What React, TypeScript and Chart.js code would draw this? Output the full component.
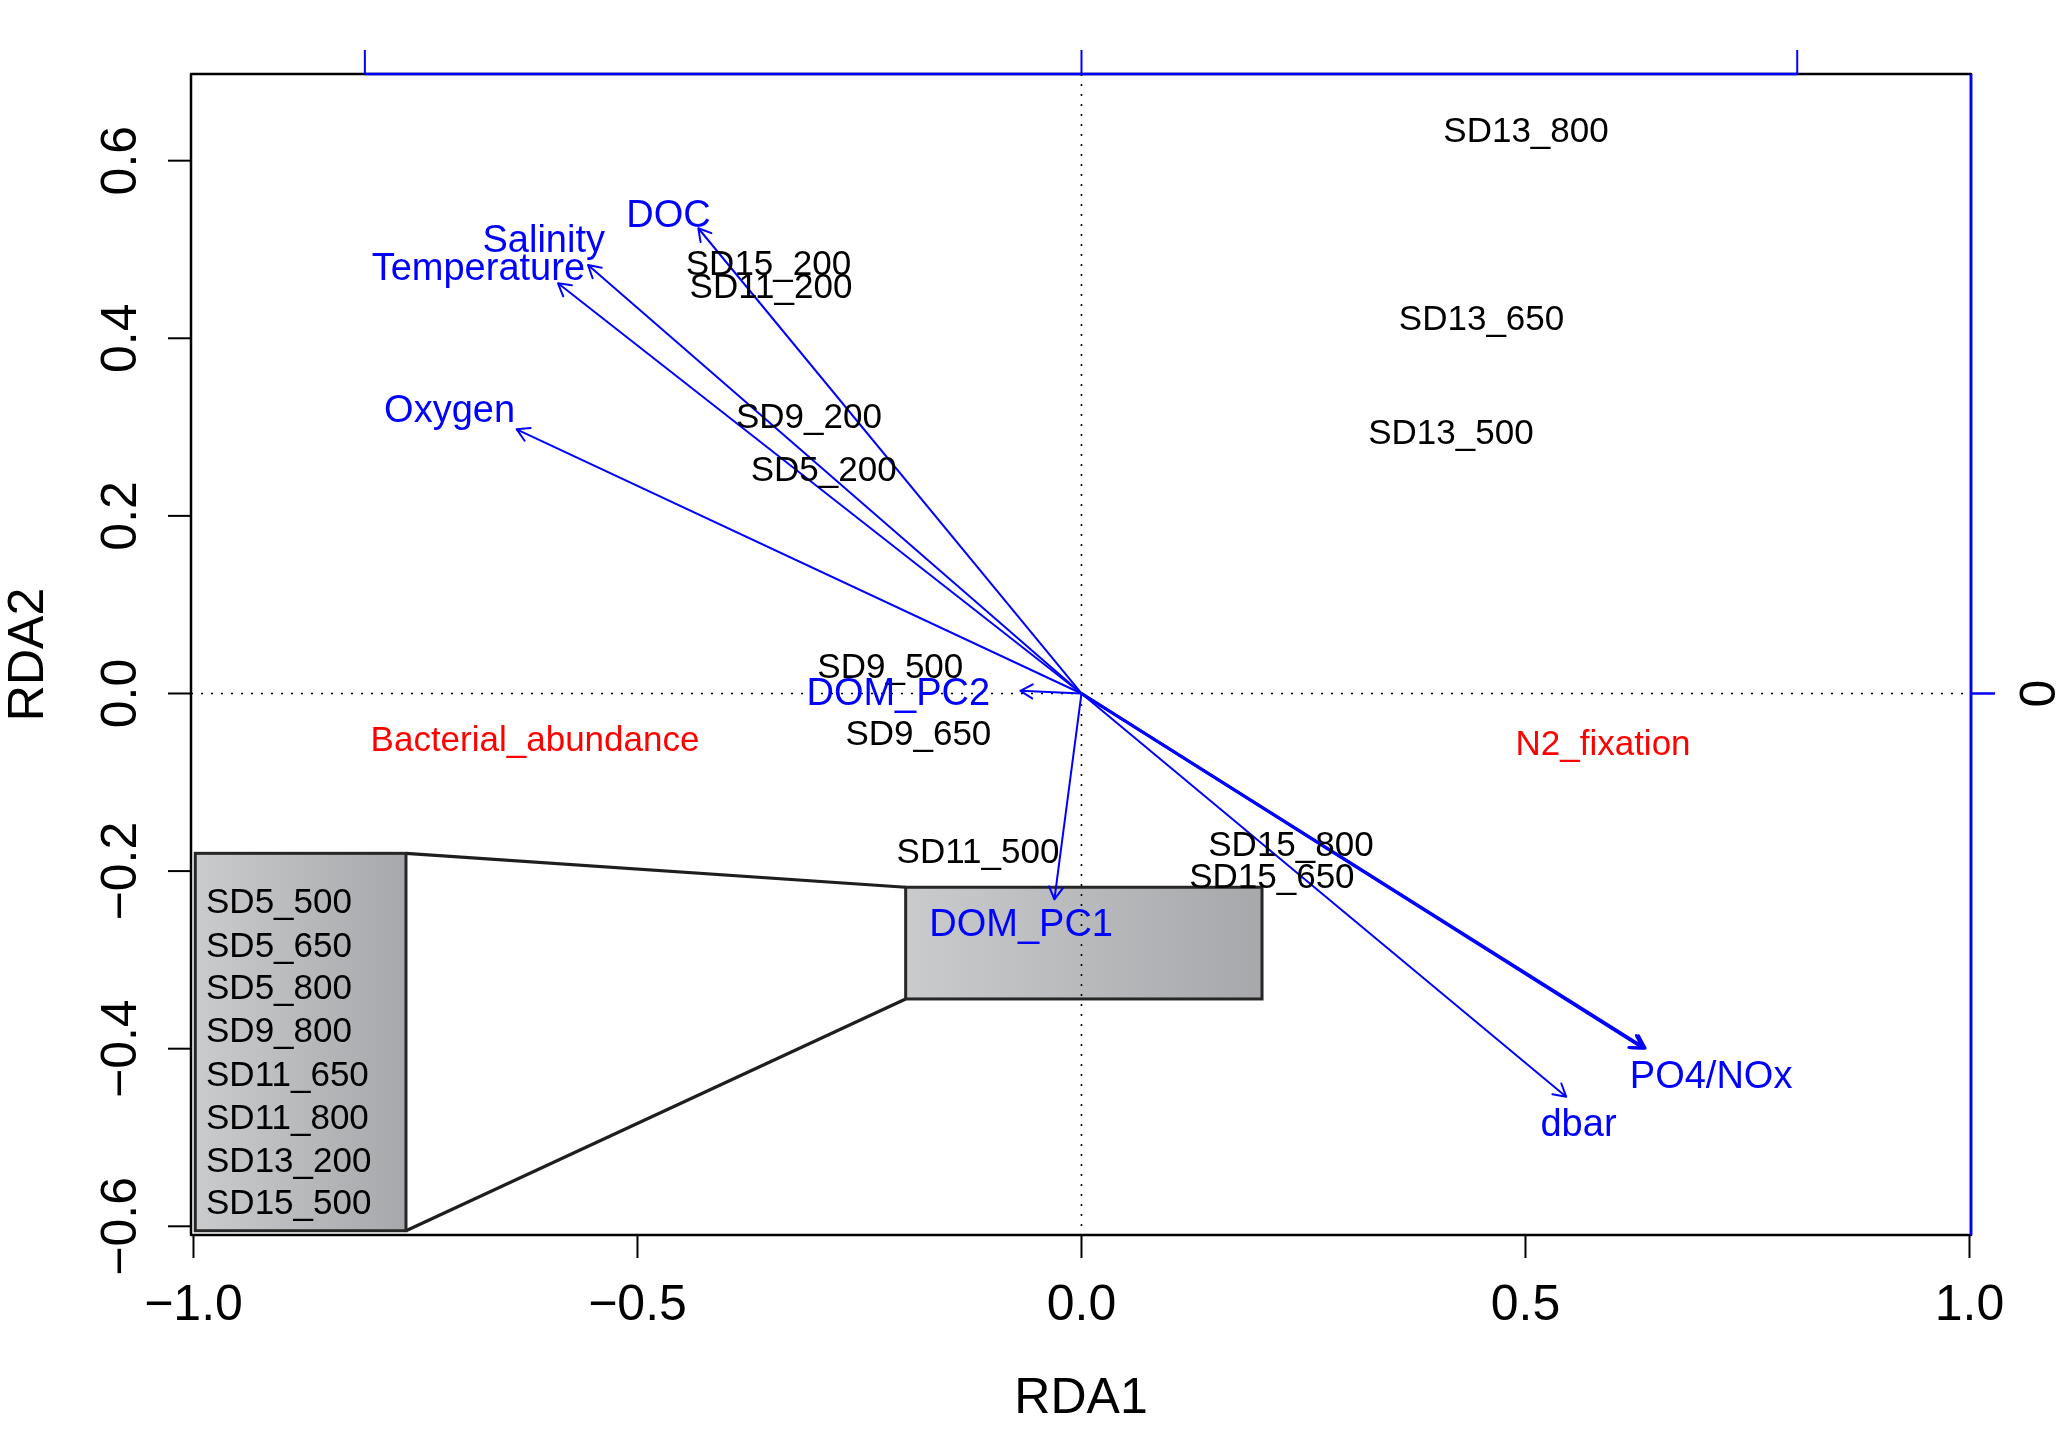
import React, { useEffect, useRef } from "react";
import { Chart, registerables } from "chart.js";

Chart.register(...registerables);

// ---------- axis ticks ----------
const xTicks = [-1.0, -0.5, 0.0, 0.5, 1.0];
const xTickLabels = ["\u22121.0", "\u22120.5", "0.0", "0.5", "1.0"];
const yTicks = [-0.6, -0.4, -0.2, 0.0, 0.2, 0.4, 0.6];
const yTickLabels = ["\u22120.6", "\u22120.4", "\u22120.2", "0.0", "0.2", "0.4", "0.6"];
const topTicks = [-0.807, 0.0, 0.806];
const rightTicks = [0.0];
const rightTickLabels = ["0"];
const xTitle = "RDA1";
const yTitle = "RDA2";

// ---------- site scores (labels) ----------
const sampleNames = [
  "SD13_800", "SD13_650", "SD13_500", "SD15_200", "SD11_200", "SD9_200",
  "SD5_200", "SD9_500", "SD9_650", "SD11_500", "SD15_800", "SD15_650",
];
const sampleX = [0.5006, 0.4505, 0.416, -0.3525, -0.3497, -0.3069, -0.2903, -0.2153, -0.1837, -0.1166, 0.2359, 0.2144];
const sampleY = [0.635, 0.4234, 0.2956, 0.4854, 0.46, 0.3127, 0.2536, 0.031, -0.0439, -0.1771, -0.1687, -0.2044];

// ---------- environmental biplot arrows ----------
const arrowNames = ["DOC", "Salinity", "Temperature", "Oxygen", "DOM_PC2", "DOM_PC1", "PO4", "NOx", "dbar"];
const arrowTipX = [-0.4315, -0.5557, -0.5895, -0.6361, -0.0688, -0.0305, 0.6347, 0.6322, 0.5458];
const arrowTipY = [0.5239, 0.4825, 0.4619, 0.2975, 0.003, -0.2318, -0.3995, -0.3992, -0.454];
const arrowWidth = [2, 2, 2, 2, 2, 2, 3, 3, 2];

// ---------- environmental labels ----------
const envNames = ["DOC", "Salinity", "Temperature", "Oxygen", "DOM_PC2", "DOM_PC1", "PO4/NOx", "dbar"];
const envLabelX = [-0.4651, -0.6056, -0.6792, -0.7116, -0.2063, -0.068, 0.709, 0.5597];
const envLabelY = [0.541, 0.5124, 0.4814, 0.3215, 0.002, -0.258, -0.4285, -0.4831];

// ---------- response variables (red) ----------
const respNames = ["Bacterial_abundance", "N2_fixation"];
const respX = [-0.6154, 0.5873];
const respY = [-0.0512, -0.0552];

// ---------- zoom box and inset list ----------
const zoomBoxX = [-0.198, 0.2033];
const zoomBoxY = [-0.344, -0.2182];
const insetBoxX = [-0.998, -0.7607];
const insetBoxY = [-0.605, -0.18];
const insetNames = ["SD5_500", "SD5_650", "SD5_800", "SD9_800", "SD11_650", "SD11_800", "SD13_200", "SD15_500"];
const insetLabelX = -0.9859;
const insetLabelY = [-0.2334, -0.2821, -0.3294, -0.3789, -0.4274, -0.4758, -0.5242, -0.5715];

const FONT = '"Liberation Sans", Arial, Helvetica, sans-serif';
const BLUE = "#0000ff";
const RED = "#ff0000";

function capText(ctx: CanvasRenderingContext2D, text: string, x: number, y: number, size: number, align: CanvasTextAlign) {
  ctx.font = `${size}px ${FONT}`;
  ctx.textAlign = align;
  ctx.textBaseline = "alphabetic";
  ctx.fillText(text, x, y + size * 0.358);
}

const rdaPlugin = {
  id: "rdaPlugin",
  beforeDatasetsDraw(chart: any) {
    const { ctx, chartArea: a } = chart;
    const xs = chart.scales.x;
    const ys = chart.scales.y;
    const px = (v: number) => xs.getPixelForValue(v);
    const py = (v: number) => ys.getPixelForValue(v);
    ctx.save();

    // connector lines from inset box to zoom box
    ctx.strokeStyle = "#1e1e1e";
    ctx.lineWidth = 3.2;
    ctx.beginPath();
    ctx.moveTo(px(insetBoxX[1]), py(insetBoxY[1]));
    ctx.lineTo(px(zoomBoxX[0]), py(zoomBoxY[1]));
    ctx.moveTo(px(insetBoxX[1]), py(insetBoxY[0]));
    ctx.lineTo(px(zoomBoxX[0]), py(zoomBoxY[0]));
    ctx.stroke();

    const drawBox = (bx: number[], by: number[]) => {
      const x0 = px(bx[0]), x1 = px(bx[1]);
      const y0 = py(by[1]), y1 = py(by[0]);
      const g = ctx.createLinearGradient(x0, 0, x1, 0);
      g.addColorStop(0, "#cacbcd");
      g.addColorStop(1, "#a7a8ab");
      ctx.fillStyle = g;
      ctx.fillRect(x0, y0, x1 - x0, y1 - y0);
      ctx.strokeStyle = "#262626";
      ctx.lineWidth = 3;
      ctx.strokeRect(x0, y0, x1 - x0, y1 - y0);
    };
    drawBox(insetBoxX, insetBoxY);
    drawBox(zoomBoxX, zoomBoxY);

    // dotted zero lines
    ctx.strokeStyle = "#000";
    ctx.lineWidth = 1.6;
    ctx.setLineDash([2, 8]);
    ctx.beginPath();
    ctx.moveTo(a.left, py(0));
    ctx.lineTo(a.right, py(0));
    ctx.moveTo(px(0), a.top);
    ctx.lineTo(px(0), a.bottom);
    ctx.stroke();
    ctx.setLineDash([]);
    ctx.restore();
  },
  afterDatasetsDraw(chart: any) {
    const { ctx, chartArea: a } = chart;
    const xs = chart.scales.x;
    const ys = chart.scales.y;
    const px = (v: number) => xs.getPixelForValue(v);
    const py = (v: number) => ys.getPixelForValue(v);
    ctx.save();

    // arrow heads
    ctx.strokeStyle = BLUE;
    ctx.lineCap = "round";
    ctx.lineJoin = "round";
    arrowNames.forEach((_, i) => {
      const x0 = px(0), y0 = py(0);
      const x1 = px(arrowTipX[i]), y1 = py(arrowTipY[i]);
      const ang = Math.atan2(y1 - y0, x1 - x0);
      const L = 14;
      ctx.lineWidth = arrowWidth[i];
      ctx.beginPath();
      ctx.moveTo(x1 - L * Math.cos(ang - Math.PI / 6), y1 - L * Math.sin(ang - Math.PI / 6));
      ctx.lineTo(x1, y1);
      ctx.lineTo(x1 - L * Math.cos(ang + Math.PI / 6), y1 - L * Math.sin(ang + Math.PI / 6));
      ctx.stroke();
    });

    // sample labels
    ctx.fillStyle = "#000";
    sampleNames.forEach((n, i) => capText(ctx, n, px(sampleX[i]), py(sampleY[i]), 35, "center"));
    // inset labels
    insetNames.forEach((n, i) => capText(ctx, n, px(insetLabelX), py(insetLabelY[i]), 35, "left"));
    // env labels
    ctx.fillStyle = BLUE;
    envNames.forEach((n, i) => capText(ctx, n, px(envLabelX[i]), py(envLabelY[i]), 38, "center"));
    // response labels
    ctx.fillStyle = RED;
    respNames.forEach((n, i) => capText(ctx, n, px(respX[i]), py(respY[i]), 35, "center"));

    // plot frame
    ctx.strokeStyle = "#000";
    ctx.lineWidth = 2.5;
    ctx.lineCap = "butt";
    ctx.strokeRect(a.left, a.top, a.right - a.left, a.bottom - a.top);

    // bottom axis
    ctx.lineWidth = 2;
    ctx.fillStyle = "#000";
    xTicks.forEach((t, i) => {
      const x = px(t);
      ctx.beginPath();
      ctx.moveTo(x, a.bottom);
      ctx.lineTo(x, a.bottom + 23);
      ctx.stroke();
      capText(ctx, xTickLabels[i], x, a.bottom + 67, 50, "center");
    });
    capText(ctx, xTitle, (a.left + a.right) / 2, a.bottom + 160, 50, "center");

    // left axis
    yTicks.forEach((t, i) => {
      const y = py(t);
      ctx.beginPath();
      ctx.moveTo(a.left, y);
      ctx.lineTo(a.left - 23, y);
      ctx.stroke();
      ctx.save();
      ctx.translate(a.left - 73, y);
      ctx.rotate(-Math.PI / 2);
      capText(ctx, yTickLabels[i], 0, 0, 50, "center");
      ctx.restore();
    });
    ctx.save();
    ctx.translate(25, (a.top + a.bottom) / 2);
    ctx.rotate(-Math.PI / 2);
    capText(ctx, yTitle, 0, 0, 50, "center");
    ctx.restore();

    // top blue axis (biplot scale)
    ctx.strokeStyle = BLUE;
    ctx.lineWidth = 2.5;
    ctx.beginPath();
    ctx.moveTo(px(topTicks[0]), a.top);
    ctx.lineTo(px(topTicks[topTicks.length - 1]), a.top);
    ctx.stroke();
    ctx.lineWidth = 2;
    topTicks.forEach((t) => {
      ctx.beginPath();
      ctx.moveTo(px(t), a.top);
      ctx.lineTo(px(t), a.top - 24);
      ctx.stroke();
    });

    // right blue axis
    ctx.lineWidth = 2.5;
    ctx.beginPath();
    ctx.moveTo(a.right, a.top);
    ctx.lineTo(a.right, a.bottom);
    ctx.stroke();
    ctx.fillStyle = "#000";
    rightTicks.forEach((t, i) => {
      const y = py(t);
      ctx.strokeStyle = BLUE;
      ctx.lineWidth = 2.5;
      ctx.beginPath();
      ctx.moveTo(a.right, y);
      ctx.lineTo(a.right + 24, y);
      ctx.stroke();
      ctx.save();
      ctx.translate(a.right + 66, y);
      ctx.rotate(-Math.PI / 2);
      capText(ctx, rightTickLabels[i], 0, 0, 50, "center");
      ctx.restore();
    });

    ctx.restore();
  },
};

export default function App() {
  const canvasRef = useRef<HTMLCanvasElement | null>(null);

  useEffect(() => {
    if (!canvasRef.current) return;
    const arrowSets = arrowNames.map((n, i) => ({
      label: n,
      data: [
        { x: 0, y: 0 },
        { x: arrowTipX[i], y: arrowTipY[i] },
      ],
      showLine: true,
      borderColor: BLUE,
      borderWidth: arrowWidth[i],
      pointRadius: 0,
      pointHoverRadius: 0,
      fill: false,
    }));
    const chart = new Chart(canvasRef.current, {
      type: "scatter",
      data: {
        datasets: [
          {
            label: "sites",
            data: sampleX.map((x, i) => ({ x, y: sampleY[i] })),
            pointRadius: 0,
            pointHoverRadius: 0,
          },
          ...arrowSets,
        ],
      },
      options: {
        responsive: false,
        animation: false,
        devicePixelRatio: 1,
        events: [],
        layout: { padding: { left: 191, top: 74, right: 96, bottom: 206 } },
        plugins: { legend: { display: false }, tooltip: { enabled: false } },
        scales: {
          x: { type: "linear", display: false, min: -1.0028, max: 1.0017 },
          y: { type: "linear", display: false, min: -0.6098, max: 0.6976 },
        },
      },
      plugins: [rdaPlugin],
    });
    return () => chart.destroy();
  }, []);

  return (
    <div style={{ position: "fixed", left: 0, top: 0, width: 2067, height: 1441, background: "#fff" }}>
      <canvas ref={canvasRef} width={2067} height={1441} style={{ width: 2067, height: 1441, display: "block" }} />
    </div>
  );
}
